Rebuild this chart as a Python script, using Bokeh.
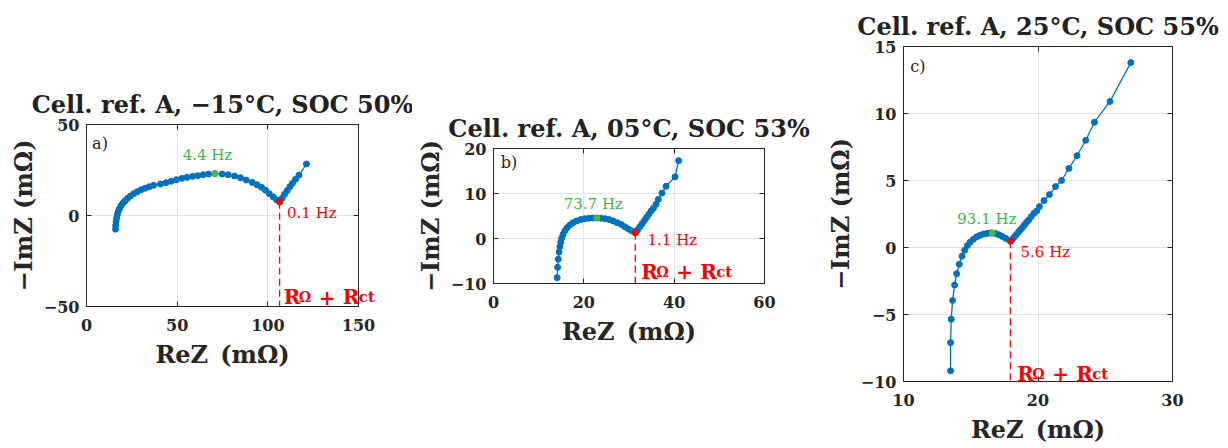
from bokeh.plotting import figure
from bokeh.layouts import row, column
from bokeh.models import LinearAxis, FixedTicker, Range1d, Label
from bokeh.embed import file_html
from bokeh.resources import INLINE

# ---------------- data ----------------
a_re = [16.0, 16.1, 16.3, 16.6, 17.0, 17.5, 18.2, 19.0, 20.0, 21.2, 22.6, 24.2, 26.0,
        28.0, 30.1, 32.3, 34.6, 37.0, 40.8, 43.8, 46.7, 49.6, 52.6, 55.5, 58.5, 61.4,
        64.4, 67.3, 70.8, 74.8, 78.1, 81.6, 84.9, 88.1, 91.4, 94.1, 96.5, 98.7, 100.8,
        103.0, 104.8, 106.5, 107.9, 109.2, 110.7, 112.2, 113.6, 115.3, 117.2, 121.3]
a_im = [-7.5, -5.5, -3.5, -1.5, 0.5, 2.2, 3.8, 5.3, 6.7, 8.0, 9.4, 10.7, 12.0,
        13.1, 14.1, 15.0, 15.8, 16.6, 17.3, 18.0, 18.8, 19.7, 20.4, 21.0, 21.5, 21.9,
        22.4, 22.8, 23.0, 22.8, 22.4, 21.7, 20.8, 19.5, 18.2, 16.9, 15.5, 13.9, 12.0,
        10.2, 8.6, 7.5, 9.5, 11.7, 13.7, 15.9, 17.7, 19.9, 22.2, 28.3]
a_green = 28
a_red = 41

b_re = [14.1, 14.2, 14.35, 14.5, 14.7, 14.9, 15.1, 15.4, 15.8, 16.3, 16.9, 17.6, 18.4,
        19.3, 20.2, 21.1, 22.0, 22.9, 23.8, 24.7, 25.6, 26.5, 27.4, 28.3, 29.1, 29.9,
        30.6, 31.4, 31.9, 32.4, 32.9, 33.4, 33.9, 34.4, 34.9, 35.4, 36.0, 36.5, 37.3,
        38.2, 40.2, 41.0]
b_im = [-8.7, -6.4, -4.6, -3.0, -1.8, -0.8, 0.1, 0.9, 1.7, 2.4, 3.0, 3.5, 3.9,
        4.2, 4.4, 4.5, 4.55, 4.55, 4.5, 4.4, 4.2, 3.9, 3.5, 3.1, 2.6, 2.1,
        1.7, 1.3, 1.9, 2.6, 3.3, 4.0, 4.7, 5.4, 6.1, 6.7, 7.6, 8.7, 10.1,
        11.6, 13.7, 17.3]
b_green = 17
b_red = 27

c_re = [13.5, 13.5, 13.55, 13.65, 13.8, 13.95, 14.15, 14.35, 14.55, 14.75, 14.95, 15.2,
        15.45, 15.7, 15.95, 16.2, 16.45, 16.6, 16.85, 17.1, 17.35, 17.6, 17.95, 18.1,
        18.25, 18.4, 18.55, 18.7, 18.85, 19.0, 19.15, 19.3, 19.5, 19.7, 19.9, 20.1,
        20.45, 20.85, 21.3, 21.75, 22.3, 22.9, 23.55, 24.2, 25.35, 26.9]
c_im = [-9.2, -7.1, -5.35, -3.95, -2.8, -1.95, -1.25, -0.65, -0.2, 0.15, 0.4, 0.62,
        0.8, 0.92, 1.0, 1.05, 1.08, 1.08, 1.04, 0.95, 0.82, 0.68, 0.47, 0.62,
        0.8, 0.97, 1.15, 1.33, 1.5, 1.7, 1.88, 2.05, 2.3, 2.55, 2.72, 3.05,
        3.5, 3.95, 4.55, 5.0, 5.9, 6.85, 8.0, 9.35, 10.9, 13.8]
c_green = 17
c_red = 22

titles = ["Cell. ref. A, \u221215\u00b0C, SOC 50%",
          "Cell. ref. A, 05\u00b0C, SOC 53%",
          "Cell. ref. A, 25\u00b0C, SOC 55%"]
green_labels = ["4.4 Hz", "73.7 Hz", "93.1 Hz"]
red_labels = ["0.1 Hz", "1.1 Hz", "5.6 Hz"]
panel_tags = ["a)", "b)", "c)"]

a_xticks = [0, 50, 100, 150]
a_yticks = [-50, 0, 50]
b_xticks = [0, 20, 40, 60]
b_yticks = [-10, 0, 10, 20]
c_xticks = [10, 20, 30]
c_yticks = [-10, -5, 0, 5, 10, 15]

BLUE = "#0072BD"
GREEN = "#4DB848"
GREEN_TXT = "#3DB54A"
RED = "#FF0000"
INK = "#262626"
SERIF = "DejaVu Serif"


def style_axis(ax, ticks, show_labels=True, is_x=True):
    ax.ticker = FixedTicker(ticks=ticks)
    ax.major_tick_in = 5
    ax.major_tick_out = 0
    ax.minor_tick_line_color = None
    ax.axis_line_color = INK
    ax.major_tick_line_color = INK
    ax.major_label_text_font = SERIF
    ax.major_label_text_font_style = "bold"
    if show_labels:
        ax.major_label_text_color = INK
        ax.major_label_text_font_size = "16px"
        ax.major_label_standoff = 12 if is_x else 7
        ax.axis_label_text_font = SERIF
        ax.axis_label_text_font_style = "bold"
        ax.axis_label_text_font_size = "24px"
        ax.axis_label_text_color = INK
        ax.axis_label_standoff = 6 if is_x else 3
    else:
        ax.major_label_text_color = None
        ax.major_label_text_font_size = "1px"
        ax.major_label_standoff = 0


def add_label(p, x, y, txt, color, size, align="left", baseline="middle",
              style="normal", dx=0, side=None):
    lab = Label(x=x, y=y, x_offset=dx, text=txt, text_color=color,
                text_font=SERIF, text_font_size=size, text_font_style=style,
                text_align=align, text_baseline=baseline)
    if side is None:
        p.add_layout(lab)
    else:
        p.add_layout(lab, side)


def make_panel(re, im, gi, ri, xr, yr, xt, yt, title, glab, rlab, tag,
               width, height, bl, br, bt, bb, lab_pos, overflow=False):
    p = figure(width=width, height=height, output_backend="svg", toolbar_location=None,
               x_range=Range1d(*xr), y_range=Range1d(*yr),
               min_border_left=bl, min_border_right=br,
               min_border_top=bt, min_border_bottom=bb,
               background_fill_color="white", border_fill_color="white")
    p.outline_line_color = INK
    p.outline_line_alpha = 1
    p.title.text = title
    p.title.align = "center"
    p.title.text_font = SERIF
    p.title.text_font_style = "bold"
    p.title.text_font_size = "24px"
    p.title.text_color = "#222222"
    p.title.standoff = 12
    style_axis(p.xaxis[0], xt, True, True)
    style_axis(p.yaxis[0], yt, True, False)
    p.xaxis[0].axis_label = "ReZ\u2002(m\u03a9)"
    p.yaxis[0].axis_label = "\u2212ImZ (m\u03a9)"
    top = LinearAxis()
    right = LinearAxis()
    style_axis(top, xt, False)
    style_axis(right, yt, False)
    p.add_layout(top, "above")
    p.add_layout(right, "right")
    p.xgrid.ticker = FixedTicker(ticks=xt)
    p.ygrid.ticker = FixedTicker(ticks=yt)
    p.xgrid.grid_line_color = "#e3e3e3"
    p.ygrid.grid_line_color = "#e3e3e3"

    # dashed line from the R_ohm + R_ct point to the bottom
    p.segment(x0=[re[ri]], y0=[im[ri]], x1=[re[ri]], y1=[yr[0]],
              line_color=RED, line_width=1.3, line_dash="7 4")
    p.line(re, im, line_color=BLUE, line_width=1.3)
    p.scatter(re, im, size=6, color=BLUE)
    p.scatter([re[gi]], [im[gi]], size=6, color=GREEN)
    p.scatter([re[ri]], [im[ri]], size=6, color=RED)

    (gx, gy), (rx, ry), (Rx, Ry), (tx, ty) = lab_pos
    add_label(p, gx, gy, glab, GREEN_TXT, "15px", align="center")
    add_label(p, rx, ry, rlab, RED, "15px")
    add_label(p, tx, ty, tag, INK, "16px")
    # R_Omega + R_ct with subscripts
    pieces = [("R", 0, "20px", "alphabetic", False),
              ("\u03a9", 15, "14px", "middle", False),
              ("+", 35, "20px", "alphabetic", False),
              ("R", 59, "20px", "alphabetic", True),
              ("ct", 75, "15px", "middle", True)]
    for txt, dx, fs, bl_, out in pieces:
        add_label(p, Rx, Ry, txt, RED, fs, baseline=bl_, style="bold", dx=dx,
                  side="right" if (out and overflow) else None)
    return p


pa = make_panel(a_re, a_im, a_green, a_red, (0, 150), (-50, 50), a_xticks, a_yticks,
                titles[0], green_labels[0], red_labels[0], panel_tags[0],
                412, 446, 86, 54, 124, 140,
                [(66.7, 33.2), (110.6, 1.3), (108.8, -45.0), (3.1, 39.5)],
                overflow=True)
pb = make_panel(b_re, b_im, b_green, b_red, (0, 60), (-10, 20), b_xticks, b_yticks,
                titles[1], green_labels[1], red_labels[1], panel_tags[1],
                410, 446, 81, 58, 148, 163,
                [(22.1, 7.6), (34.1, -0.4), (32.7, -7.4), (1.6, 17.0)])
pc = make_panel(c_re, c_im, c_green, c_red, (10, 30), (-10, 15), c_xticks, c_yticks,
                titles[2], green_labels[2], red_labels[2], panel_tags[2],
                404, 446, 78, 54, 46, 60,
                [(16.2, 2.13), (18.7, -0.3), (18.45, -9.43), (10.5, 13.5)])

layout = row(column(pa), column(pb), column(pc), spacing=0)
open("out.html", "w").write(file_html(layout, INLINE))
